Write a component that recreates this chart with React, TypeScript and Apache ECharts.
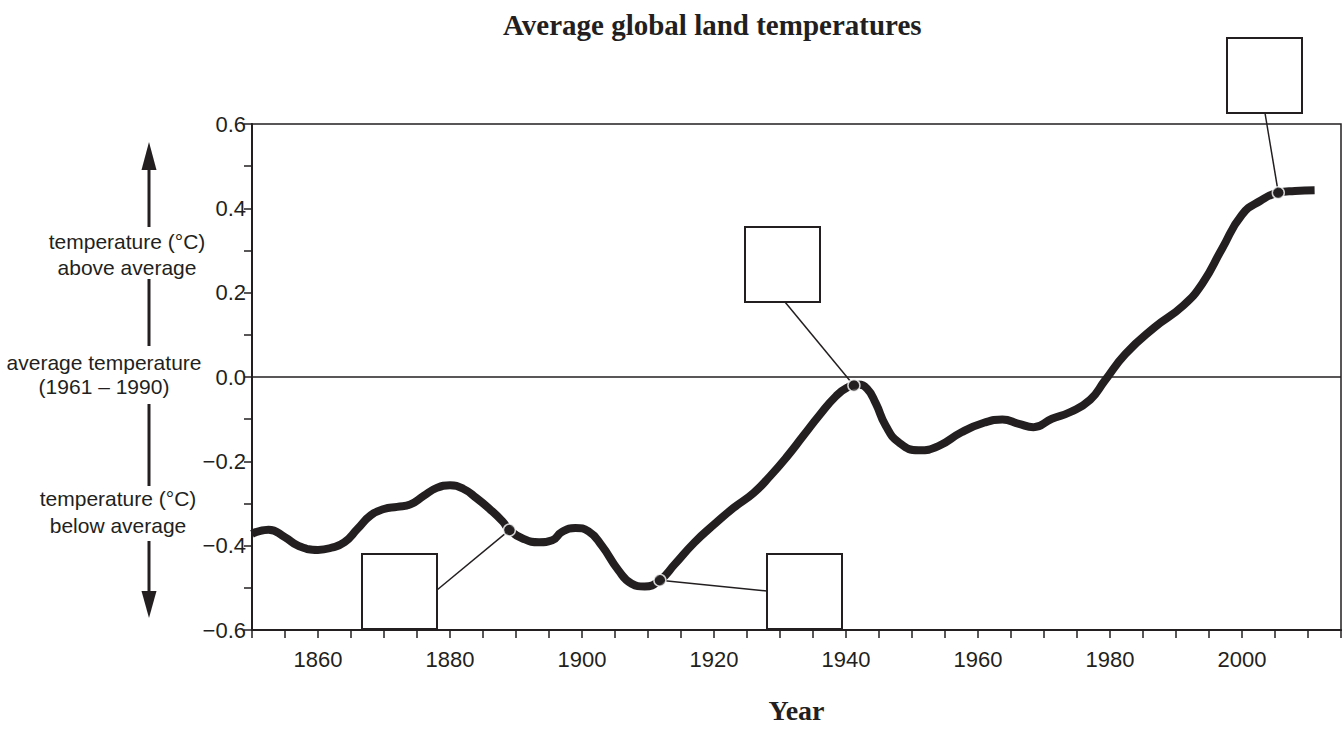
import React, { useEffect, useRef } from "react";
import * as echarts from "echarts";

// Smoothed average global land temperature anomaly (°C) vs year
const years = [
  1850, 1852.5, 1855, 1857, 1860, 1862, 1864, 1866, 1868, 1870, 1872, 1874, 1876, 1878, 1880,
  1882, 1884, 1886, 1888, 1889, 1891, 1893.5, 1895.5, 1897, 1899, 1901, 1903, 1905.5, 1907.5,
  1909.5, 1911.8, 1914, 1917, 1920, 1923, 1926, 1928.5, 1931, 1933.5, 1936, 1938.5, 1940.2,
  1941.8, 1943.2, 1944.5, 1946, 1948, 1951, 1954, 1957.5, 1961, 1963.7, 1966.2, 1968.4,
  1971.2, 1974, 1977, 1979.2, 1982.3, 1986.7, 1991, 1994, 1997, 2000, 2002.8, 2005.5,
  2008, 2011,
];
const temps = [
  -0.372, -0.362, -0.38, -0.4, -0.41, -0.405, -0.392, -0.36, -0.328, -0.313, -0.308, -0.302,
  -0.282, -0.263, -0.257, -0.265, -0.287, -0.313, -0.343, -0.363, -0.383, -0.392, -0.387, -0.367,
  -0.358, -0.366, -0.4, -0.458, -0.49, -0.497, -0.482, -0.445, -0.393, -0.35, -0.31, -0.275,
  -0.235, -0.19, -0.14, -0.09, -0.045, -0.025, -0.018, -0.028, -0.062, -0.115, -0.155, -0.174,
  -0.164, -0.131, -0.108, -0.101, -0.111, -0.119, -0.099, -0.083, -0.054, -0.009, 0.054, 0.117,
  0.168, 0.222, 0.305, 0.385, 0.418, 0.437, 0.441, 0.443,
];

// Marked points with empty answer boxes
const markerYears = [1889, 1911.8, 1941.2, 2005.5];
const markerTemps = [-0.363, -0.482, -0.02, 0.437];

// Tick labels
const xTickLabels = [1860, 1880, 1900, 1920, 1940, 1960, 1980, 2000];
const yTickLabels = [-0.6, -0.4, -0.2, 0, 0.2, 0.4, 0.6];

const titleText = "Average global land temperatures";
const xAxisTitle = "Year";
const sideNotes = [
  ["temperature (°C)", "above average"],
  ["average temperature", "(1961 – 1990)"],
  ["temperature (°C)", "below average"],
];

export default function App() {
  const ref = useRef<HTMLDivElement>(null);

  useEffect(() => {
    const el = ref.current;
    if (!el) return;
    const chart = echarts.init(el, null, { renderer: "svg" });
    const ink = "#231f20";
    const sans = "'Liberation Sans', Arial, Helvetica, sans-serif";
    const serif = "'Liberation Serif', 'Times New Roman', serif";

    const fmtY = (t: number) =>
      Math.abs(t) < 1e-9 ? "0.0" : t < 0 ? "\u2212" + (-t).toFixed(1) : t.toFixed(1);

    chart.setOption({
      animation: false,
      title: {
        text: titleText,
        left: 498,
        top: 5,
        textStyle: { fontFamily: serif, fontWeight: "bold", fontSize: 29, color: ink },
      },
      grid: {
        left: 252,
        right: 1,
        top: 124,
        bottom: 95,
        show: true,
        borderColor: ink,
        borderWidth: 1.5,
        backgroundColor: "transparent",
      },
      xAxis: {
        type: "value",
        min: 1850,
        max: 2015,
        interval: 5,
        axisLine: { onZero: false, lineStyle: { color: ink, width: 2 } },
        axisTick: { length: 8, lineStyle: { color: ink, width: 1.5 } },
        axisLabel: {
          formatter: (v: number) => (xTickLabels.includes(Math.round(v)) ? String(Math.round(v)) : ""),
          color: ink,
          fontSize: 22,
          fontFamily: sans,
          margin: 18,
        },
        splitLine: { show: false },
        name: xAxisTitle,
        nameLocation: "middle",
        nameGap: 66,
        nameTextStyle: { fontFamily: serif, fontWeight: "bold", fontSize: 28, color: ink },
      },
      yAxis: {
        type: "value",
        min: -0.6,
        max: 0.6,
        interval: 0.1,
        axisLine: { onZero: false, lineStyle: { color: ink, width: 2 } },
        axisTick: { length: 8, lineStyle: { color: ink, width: 1.5 } },
        axisLabel: {
          formatter: (v: number) => {
            const t = yTickLabels.find((k) => Math.abs(k - v) < 1e-6);
            return t === undefined ? "" : fmtY(t);
          },
          color: ink,
          fontSize: 22,
          fontFamily: sans,
          margin: 6,
        },
        splitLine: { show: false },
      },
      series: [
        {
          type: "line",
          data: years.map((y, i) => [y, temps[i]]),
          smooth: 0.5,
          showSymbol: false,
          lineStyle: { color: ink, width: 8, cap: "butt", join: "round" },
          z: 3,
          markLine: {
            silent: true,
            symbol: ["none", "none"],
            label: { show: false },
            lineStyle: { color: ink, width: 1.5, type: "solid" },
            data: [{ yAxis: 0 }],
          },
        },
        {
          type: "scatter",
          data: markerYears.map((y, i) => [y, markerTemps[i]]),
          symbol: "circle",
          symbolSize: 12,
          itemStyle: { color: ink, borderColor: "#ffffff", borderWidth: 1.5 },
          z: 6,
        },
      ],
    });

    const pts = markerYears.map(
      (y, i) => chart.convertToPixel({ xAxisIndex: 0, yAxisIndex: 0 }, [y, markerTemps[i]]) as number[]
    );

    // answer boxes: [x, y, w, h, anchorX, anchorY]
    const boxes = [
      [362, 554, 75, 75, 437, 590],
      [767, 554, 75, 75, 767, 591],
      [745, 227, 75, 75, 785, 302],
      [1227, 38, 75, 75, 1265, 113],
    ];

    const graphics: any[] = [];
    boxes.forEach((b, i) => {
      graphics.push({
        type: "line",
        shape: { x1: b[4], y1: b[5], x2: pts[i][0], y2: pts[i][1] },
        style: { stroke: ink, lineWidth: 1.5 },
        z: 5,
      });
      graphics.push({
        type: "rect",
        shape: { x: b[0], y: b[1], width: b[2], height: b[3] },
        style: { fill: "#ffffff", stroke: ink, lineWidth: 2 },
        z: 5,
      });
    });

    const ax = 149;
    const arrowSegs = [
      [170, 227],
      [279, 346],
      [404, 486],
      [541, 593],
    ];
    arrowSegs.forEach((s) =>
      graphics.push({
        type: "line",
        shape: { x1: ax, y1: s[0], x2: ax, y2: s[1] },
        style: { stroke: ink, lineWidth: 3 },
      })
    );
    graphics.push({
      type: "polygon",
      shape: { points: [[ax, 142], [ax - 7.5, 170], [ax + 7.5, 170]] },
      style: { fill: ink },
    });
    graphics.push({
      type: "polygon",
      shape: { points: [[ax, 618], [ax - 7.5, 591], [ax + 7.5, 591]] },
      style: { fill: ink },
    });

    const notePos = [
      [127, 241, 267],
      [104, 362.5, 386],
      [118, 498, 525],
    ];
    sideNotes.forEach((lines, i) => {
      lines.forEach((t, j) => {
        graphics.push({
          type: "text",
          x: notePos[i][0],
          y: notePos[i][1 + j],
          style: {
            text: t,
            fill: ink,
            font: `21px ${sans}`,
            textAlign: "center",
            textVerticalAlign: "middle",
          },
        });
      });
    });

    chart.setOption({ graphic: graphics });

    return () => {
      chart.dispose();
    };
  }, []);

  return (
    <div
      ref={ref}
      style={{ position: "fixed", left: 0, top: 0, width: "1344px", height: "729px", background: "#ffffff" }}
    />
  );
}
